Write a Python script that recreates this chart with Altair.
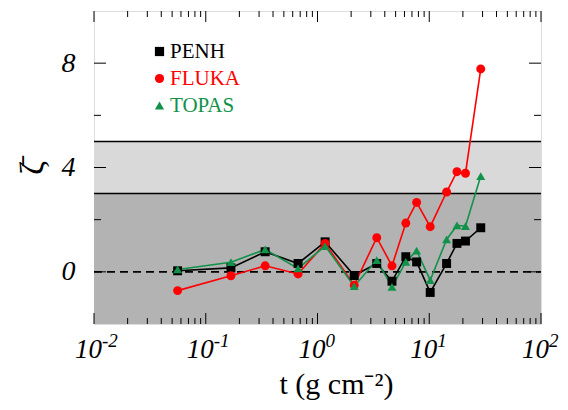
import altair as alt
import pandas as pd

# ---- data ----
t_vals = [0.056, 0.168, 0.34, 0.67, 1.17, 2.13, 3.39, 4.64, 6.17, 7.71, 10.2, 14.3, 17.7, 21.1, 28.9]
penh = [0.04, 0.15, 0.77, 0.32, 1.15, -0.14, 0.32, -0.36, 0.58, 0.38, -0.79, 0.32, 1.09, 1.18, 1.69]
fluka = [-0.72, -0.15, 0.23, -0.08, 1.09, -0.51, 1.31, 0.23, 1.87, 2.66, 1.73, 3.06, 3.84, 3.78, 7.78]
topas = [0.09, 0.37, 0.86, 0.13, 0.99, -0.55, 0.45, -0.58, 0.38, 0.81, -0.32, 1.24, 1.78, 1.75, 3.67]

series = ["PENH", "FLUKA", "TOPAS"]
colors = ["#000000", "#ff0000", "#11924a"]
shapes = ["square", "circle", "triangle-up"]

band_dark = [-2, 3]
band_light = [3, 5]
band_edges = [3, 5]
zero_line = [0]

x_major = [0.01, 0.1, 1, 10, 100]
x_base = ["10", "10", "10", "10", "10"]
x_exp = ["-2", "-1", "0", "1", "2"]
x_minor = [m * 10.0 ** k for k in range(-2, 2) for m in range(2, 10)]
y_major = [0, 4, 8]
y_minor = [2, 6]

rows = []
for name, vals in zip(series, [penh, fluka, topas]):
    for x, y in zip(t_vals, vals):
        rows.append({"t": x, "z": y, "code": name})
df = pd.DataFrame(rows)

W, H = 447, 313
SERIF = "Liberation Serif"

xs = alt.Scale(type="log", domain=[0.01, 100], nice=False)
ys = alt.Scale(domain=[-2, 10], nice=False, zero=False)

x_axis = alt.Axis(values=x_major, labels=False, tickSize=0, domain=False, grid=False,
                  title="t (g cm⁻²)", titleFont=SERIF, titleFontSize=30, titleFontWeight="normal",
                  titleColor="black", titlePadding=45, titleX=242)
y_axis = alt.Axis(values=y_major, labelFont=SERIF, labelFontStyle="italic", labelFontSize=28,
                  labelColor="black", labelPadding=19, tickSize=0, domain=False, grid=False,
                  title="ζ̄", titleFont=SERIF, titleFontSize=34, titleFontWeight="normal",
                  titleColor="black", titlePadding=12)


def X(field):
    return alt.X(field + ":Q", scale=xs, axis=x_axis)


def Y(field):
    return alt.Y(field + ":Q", scale=ys, axis=y_axis)


dark = alt.Chart(pd.DataFrame({"a": [band_dark[0]], "b": [band_dark[1]]})).mark_rect(color="#b3b3b3").encode(
    x=alt.value(0), x2=alt.value(W), y=Y("a"), y2="b:Q")
light = alt.Chart(pd.DataFrame({"a": [band_light[0]], "b": [band_light[1]]})).mark_rect(color="#d9d9d9").encode(
    x=alt.value(0), x2=alt.value(W), y=Y("a"), y2="b:Q")
edges = alt.Chart(pd.DataFrame({"a": band_edges})).mark_rule(color="black", strokeWidth=1.5).encode(
    x=alt.value(0), x2=alt.value(W), y=Y("a"))
zero = alt.Chart(pd.DataFrame({"a": zero_line})).mark_rule(color="black", strokeWidth=1.8, strokeDash=[8, 5]).encode(
    x=alt.value(0), x2=alt.value(W), y=Y("a"))

# inward ticks
xmaj_df = pd.DataFrame({"t": x_major, "base": x_base, "exp": x_exp})
xmin_df = pd.DataFrame({"t": x_minor})
ymaj_df = pd.DataFrame({"a": y_major})
ymin_df = pd.DataFrame({"a": y_minor})
tk = dict(color="black", strokeWidth=1)
ticks = [
    alt.Chart(xmaj_df).mark_rule(**tk).encode(x=X("t"), y=alt.value(H), y2=alt.value(H - 11)),
    alt.Chart(xmaj_df).mark_rule(**tk).encode(x=X("t"), y=alt.value(0), y2=alt.value(11)),
    alt.Chart(xmin_df).mark_rule(**tk).encode(x=X("t"), y=alt.value(H), y2=alt.value(H - 6)),
    alt.Chart(xmin_df).mark_rule(**tk).encode(x=X("t"), y=alt.value(0), y2=alt.value(6)),
    alt.Chart(ymaj_df).mark_rule(**tk).encode(y=Y("a"), x=alt.value(0), x2=alt.value(12)),
    alt.Chart(ymaj_df).mark_rule(**tk).encode(y=Y("a"), x=alt.value(W), x2=alt.value(W - 12)),
    alt.Chart(ymin_df).mark_rule(**tk).encode(y=Y("a"), x=alt.value(0), x2=alt.value(7)),
    alt.Chart(ymin_df).mark_rule(**tk).encode(y=Y("a"), x=alt.value(W), x2=alt.value(W - 7)),
]

# x tick labels: 10 with superscript exponent
base_txt = alt.Chart(xmaj_df).mark_text(font=SERIF, fontStyle="italic", fontSize=27, align="right",
                                         baseline="alphabetic", dx=8, color="black").encode(
    x=X("t"), y=alt.value(H + 34), text="base:N")
exp_txt = alt.Chart(xmaj_df).mark_text(font=SERIF, fontStyle="italic", fontSize=19, align="left",
                                        baseline="alphabetic", dx=8, color="black").encode(
    x=X("t"), y=alt.value(H + 23), text="exp:N")

color_scale = alt.Scale(domain=series, range=colors)
shape_scale = alt.Scale(domain=series, range=shapes)
label_color = "datum.value == 'FLUKA' ? '#ff0000' : (datum.value == 'TOPAS' ? '#11924a' : '#000000')"
legend = alt.Legend(orient="none", legendX=55, legendY=30, title=None, labelFont=SERIF, labelFontSize=21,
                    labelColor={"expr": label_color}, symbolSize=85, symbolStrokeWidth=0,
                    rowPadding=5, labelOffset=0, symbolOffset=0)

lines = alt.Chart(df).mark_line(strokeWidth=1.6).encode(
    x=X("t"), y=Y("z"),
    color=alt.Color("code:N", scale=color_scale, legend=legend),
    detail="code:N")
points = alt.Chart(df).mark_point(filled=True, size=80, opacity=1).encode(
    x=X("t"), y=Y("z"),
    color=alt.Color("code:N", scale=color_scale, legend=legend),
    shape=alt.Shape("code:N", scale=shape_scale, legend=legend))

chart = alt.layer(dark, light, edges, zero, *ticks, base_txt, exp_txt, lines, points).properties(
    width=W, height=H,
    autosize=alt.AutoSizeParams(type="none"),
    padding={"left": 86, "top": 3, "right": 19, "bottom": 76},
).configure_view(stroke="black", strokeWidth=1.8).configure(background="white")

chart.save("out.html", embed_options={"renderer": "svg", "actions": False})
